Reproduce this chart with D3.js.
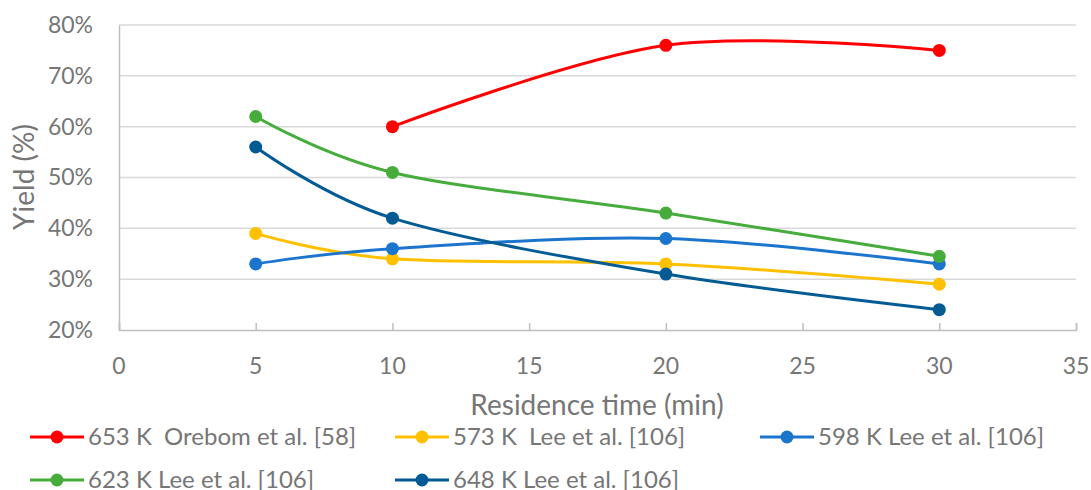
<!DOCTYPE html>
<html><head><meta charset="utf-8">
<script src="https://cdn.jsdelivr.net/npm/d3@7"></script>
<style>body{margin:0;background:#fff}svg{display:block}text{font-family:Lato,"Open Sans",sans-serif;fill:#767676;white-space:pre}</style>
</head><body><svg id="c" width="1091" height="490"></svg>
<script>
const seriesNames = ["653 K  Orebom et al. [58]","573 K  Lee et al. [106]","598 K Lee et al. [106]","623 K Lee et al. [106]","648 K Lee et al. [106]"];
const seriesColors = ["#ff0000","#ffc000","#1c75cd","#46ad3c","#035b94"];
const xs653 = [10,20,30];
const ys653 = [60,76,75];
const xsLee = [5,10,20,30];
const ys573 = [39,34,33,29];
const ys598 = [33,36,38,33];
const ys623 = [62,51,43,34.5];
const ys648 = [56,42,31,24];
const xTicks = [0,5,10,15,20,25,30,35];
const yTicks = [20,30,40,50,60,70,80];

const series = [
  {x: xs653, y: ys653},
  {x: xsLee, y: ys573},
  {x: xsLee, y: ys598},
  {x: xsLee, y: ys623},
  {x: xsLee, y: ys648}
].map((s,i)=>({name: seriesNames[i], color: seriesColors[i], pts: s.x.map((v,j)=>[v,s.y[j]])}));

const svg = d3.select("#c");
const x = d3.scaleLinear().domain([0,35]).range([119,1076]);
const y = d3.scaleLinear().domain([20,80]).range([330,25]);

// gridlines
svg.append("g").selectAll("line").data(yTicks.filter(d=>d>20)).join("line")
  .attr("x1",x(0)).attr("x2",x(35)).attr("y1",d=>y(d)).attr("y2",d=>y(d))
  .attr("stroke","#d9d9d9").attr("stroke-width",1.5);

// y axis
const ya = svg.append("g").attr("transform",`translate(${x(0)},0)`)
  .call(d3.axisLeft(y).tickValues(yTicks).tickFormat(d=>d+"%").tickSize(0).tickPadding(26));
ya.select(".domain").attr("stroke","#bfbfbf").attr("stroke-width",1.5);
ya.selectAll("text").attr("font-size",23).attr("font-family","Lato").style("fill","#767676");

// x axis
const xa = svg.append("g").attr("transform",`translate(0,${y(20)})`)
  .call(d3.axisTop(x).tickValues(xTicks).tickSize(7).tickFormat(""));
xa.select(".domain").attr("stroke","#bfbfbf").attr("stroke-width",1.5);
xa.selectAll(".tick line").attr("stroke","#bfbfbf").attr("stroke-width",1.5);
svg.append("g").selectAll("text").data(xTicks).join("text")
  .attr("x",d=>x(d)).attr("y",374).attr("text-anchor","middle").attr("font-size",23).text(d=>d);

// titles
svg.append("text").attr("x",597).attr("y",415).attr("text-anchor","middle").attr("font-size",28).text("Residence time (min)");
svg.append("text").attr("transform","translate(34,177) rotate(-90)").attr("text-anchor","middle").attr("font-size",28).text("Yield (%)");

// lines
const line = d3.line().x(d=>x(d[0])).y(d=>y(d[1])).curve(d3.curveCardinal.tension(0));
series.forEach(s=>{
  const g = svg.append("g");
  g.append("path").attr("d",line(s.pts)).attr("fill","none").attr("stroke",s.color).attr("stroke-width",3);
  g.selectAll("circle").data(s.pts).join("circle").attr("cx",d=>x(d[0])).attr("cy",d=>y(d[1])).attr("r",6.5).attr("fill",s.color);
});

// legend
const legPos = [[30,437],[395,437],[760,437],[30,480],[395,480]];
series.forEach((s,i)=>{
  const [lx,ly] = legPos[i];
  const g = svg.append("g").attr("transform",`translate(${lx},${ly})`);
  g.append("line").attr("x1",0).attr("x2",54).attr("stroke",s.color).attr("stroke-width",3);
  g.append("circle").attr("cx",27).attr("r",6.5).attr("fill",s.color);
  g.append("text").attr("x",58).attr("y",8).attr("font-size",24).text(s.name);
});
</script></body></html>
